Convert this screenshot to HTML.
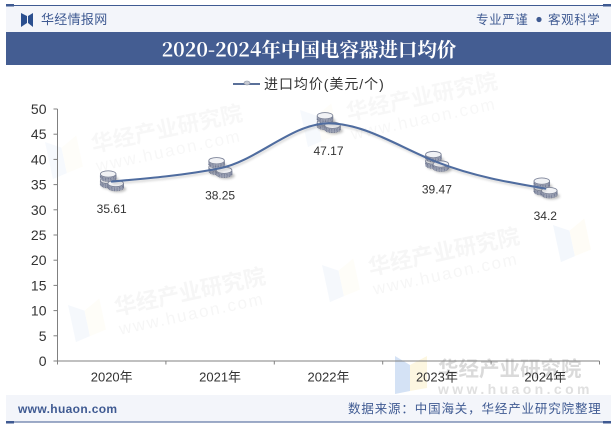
<!DOCTYPE html>
<html lang="zh">
<head>
<meta charset="utf-8">
<title>2020-2024年中国电容器进口均价</title>
<style>
html,body{margin:0;padding:0;background:#fff;width:615px;height:427px;overflow:hidden}
svg{display:block;font-family:"Liberation Sans","Noto Sans CJK SC",sans-serif}
</style>
</head>
<body>
<svg id="chart" width="615" height="427" viewBox="0 0 615 427" xmlns="http://www.w3.org/2000/svg">
  <defs>
    <filter id="blur1" x="-40%" y="-40%" width="180%" height="180%"><feGaussianBlur stdDeviation="1.4"/></filter>
    <filter id="blur2" x="-10%" y="-40%" width="120%" height="180%"><feGaussianBlur stdDeviation="1"/></filter>
    <g id="wm-logo">
      <polygon points="0,0 15,9 15,35 0,38" fill="#2f74d0"/>
      <polygon points="15,9 32,0 32,32 15,35" fill="#f5d76a"/>
    </g>
  </defs>

  <g id="watermarks">
    <g transform="translate(45,142) rotate(-12)" opacity="0.035">
      <use href="#wm-logo"/>
      <text x="45" y="20" font-size="22" font-weight="700" fill="#444">华经产业研究院</text>
      <text x="45" y="40" font-size="17" letter-spacing="1.8" fill="#444">www.huaon.com</text>
    </g>
    <g transform="translate(300,110) rotate(-12)" opacity="0.035">
      <use href="#wm-logo"/>
      <text x="45" y="20" font-size="22" font-weight="700" fill="#444">华经产业研究院</text>
      <text x="45" y="40" font-size="17" letter-spacing="1.8" fill="#444">www.huaon.com</text>
    </g>
    <g transform="translate(322,265) rotate(-12)" opacity="0.045">
      <use href="#wm-logo"/>
      <text x="45" y="20" font-size="22" font-weight="700" fill="#444">华经产业研究院</text>
      <text x="45" y="40" font-size="17" letter-spacing="1.8" fill="#444">www.huaon.com</text>
    </g>
    <g transform="translate(68,305) rotate(-12)" opacity="0.045">
      <use href="#wm-logo"/>
      <text x="45" y="20" font-size="22" font-weight="700" fill="#444">华经产业研究院</text>
      <text x="45" y="40" font-size="17" letter-spacing="1.8" fill="#444">www.huaon.com</text>
    </g>
    <g transform="translate(553,225) rotate(-12)" opacity="0.05">
      <use href="#wm-logo"/>
    </g>
    <g transform="translate(395,356)">
      <g opacity="0.2"><use href="#wm-logo"/></g>
      <text x="43" y="20" font-size="20.5" font-weight="700" fill="#dadada">华经产业研究院</text>
      <text x="43" y="38" font-size="14" font-weight="700" letter-spacing="3.4" fill="#e0e0e0">www.huaon.com</text>
    </g>
  </g>

  <g>
    <rect x="6" y="6" width="605" height="26" fill="#f3f5fa"/>
    <rect x="6" y="5" width="605" height="1" fill="#3f5a92"/>
    <rect x="6" y="4" width="8" height="2.5" fill="#3f5a92"/>
    <rect x="603" y="4" width="8" height="2.5" fill="#3f5a92"/>
    <path d="M21 13 L27 16 L27 23 L21 27 Z M33 13 L28 16 L28 23 L33 27 Z" fill="#2b4f8f"/>
    <text x="41" y="24" font-size="13" letter-spacing="0.3" fill="#3f5a92">华经情报网</text>
    <text x="476" y="24" font-size="12.5" letter-spacing="0.6" fill="#3f5a92">专业严谨</text>
    <circle cx="539" cy="19.5" r="2.6" fill="#3f5a92"/>
    <text x="548" y="24" font-size="12.5" letter-spacing="0.6" fill="#3f5a92">客观科学</text>
  </g>

  <rect x="6" y="32" width="605" height="33" fill="#445d92"/>
  <text x="309" y="56.5" text-anchor="middle" font-size="19.5" font-weight="700" fill="#fff" style="font-family:'Noto Serif CJK SC','Liberation Serif',serif">2020-2024年中国电容器进口均价</text>

  <g>
    <line x1="233" y1="84" x2="260" y2="84" stroke="#5a7099" stroke-width="2"/>
    <ellipse cx="247" cy="83" rx="3" ry="2" fill="#c5c9d2" stroke="#8f95a3" stroke-width="0.6"/>
    <text x="264" y="89" font-size="14" letter-spacing="0.95" fill="#333">进口均价(美元/个)</text>
  </g>

  <g id="axes"></g>
  <g id="series"></g>

  <g>
    <rect x="6" y="395" width="605" height="27" fill="#f3f5fa"/>
    <rect x="6" y="421.5" width="605" height="1" fill="#3f5a92"/>
    <rect x="6" y="421" width="8" height="2.5" fill="#3f5a92"/>
    <rect x="603" y="421" width="8" height="2.5" fill="#3f5a92"/>
    <text x="18" y="413" font-size="12" font-weight="700" letter-spacing="0.35" fill="#3f5a92">www.huaon.com</text>
    <text x="348" y="413" font-size="12.5" letter-spacing="0.85" fill="#3f5a92">数据来源：中国海关，华经产业研究院整理</text>
  </g>
</svg>

<script>
const categories = ['2020年', '2021年', '2022年', '2023年', '2024年'];
const priceValues = [35.61, 38.25, 47.17, 39.47, 34.2];
const priceLabels = ['35.61', '38.25', '47.17', '39.47', '34.2'];
const yTickValues = [0, 5, 10, 15, 20, 25, 30, 35, 40, 45, 50];

const NS = 'http://www.w3.org/2000/svg';
const plot = { left: 57.5, right: 599.5, top: 109, bottom: 361, yMax: 50 };

function xScale(i) {
  const band = (plot.right - plot.left) / categories.length;
  return plot.left + band * (i + 0.5);
}
function xEdge(i) {
  return plot.left + (plot.right - plot.left) / categories.length * i;
}
function yScale(v) {
  return plot.bottom - (v / plot.yMax) * (plot.bottom - plot.top);
}
function make(parent, tag, attrs, text) {
  const el = document.createElementNS(NS, tag);
  for (const k in attrs) el.setAttribute(k, attrs[k]);
  if (text !== undefined) el.textContent = text;
  parent.appendChild(el);
  return el;
}

const axes = document.getElementById('axes');
const series = document.getElementById('series');

const yAxisLine = make(axes, 'line', { x1: plot.left, y1: plot.top, x2: plot.left, y2: plot.bottom, stroke: '#808080', 'stroke-width': 1 });



const xAxisLine = make(axes, 'line', { x1: plot.left, y1: plot.bottom, x2: plot.right, y2: plot.bottom, stroke: '#808080', 'stroke-width': 1 });



yTickValues.forEach(function (v) {
  const y = yScale(v);
  const tick = make(axes, 'line', { x1: plot.left - 4, y1: y, x2: plot.left, y2: y, stroke: '#808080', 'stroke-width': 1 });
  
  
  const label = make(axes, 'text', { x: plot.left - 11, y: y + 5, 'text-anchor': 'end', 'font-size': 14, fill: '#333' }, String(v));
  
  
});

for (let i = 0; i <= categories.length; i++) {
  const x = xEdge(i);
  const tick = make(axes, 'line', { x1: x, y1: plot.bottom, x2: x, y2: plot.bottom + 3.5, stroke: '#808080', 'stroke-width': 1 });
  
  
}

categories.forEach(function (c, i) {
  const label = make(axes, 'text', { x: xScale(i), y: plot.bottom + 20.5, 'text-anchor': 'middle', 'font-size': 13, fill: '#333' }, c);
  
  
});

function drawStack(parent, cx, cy) {
  make(parent, 'ellipse', { cx: cx + 2, cy: cy + 5.5, rx: 8.5, ry: 3.2, fill: '#555', opacity: 0.4, filter: 'url(#blur1)' });
  [4, 2.6, 1.3].forEach(function (d) {
    make(parent, 'ellipse', { cx: cx, cy: cy + d, rx: 7.8, ry: 3.2, fill: '#aeb3c2', stroke: '#6e7690', 'stroke-width': 1, 'stroke-dasharray': '1 0.6' });
  });
  make(parent, 'ellipse', { cx: cx, cy: cy, rx: 7.8, ry: 3.2, fill: '#f1f2f5', stroke: '#7d8499', 'stroke-width': 0.9 });
}

function monotonePath() {
  const pts = priceValues.map(function (v, i) { return [xScale(i), yScale(v)]; });
  const n = pts.length;
  const secants = [];
  for (let i = 0; i < n - 1; i++) {
    secants.push((pts[i + 1][1] - pts[i][1]) / (pts[i + 1][0] - pts[i][0]));
  }
  const slopes = new Array(n).fill(0);
  for (let i = 1; i < n - 1; i++) {
    const a = secants[i - 1], b = secants[i];
    if (a * b > 0) {
      slopes[i] = Math.sign(a) * Math.min(Math.abs(a), Math.abs(b), 0.5 * Math.abs(a + b));
      slopes[i] = slopes[i] * 1.6;
      if (Math.abs(slopes[i]) > 3 * Math.min(Math.abs(a), Math.abs(b))) {
        slopes[i] = Math.sign(a) * 3 * Math.min(Math.abs(a), Math.abs(b));
      }
    }
  }
  slopes[0] = (3 * secants[0] - slopes[1]) / 2;
  slopes[n - 1] = (3 * secants[n - 2] - slopes[n - 2]) / 2;
  let d = 'M' + pts[0][0] + ' ' + pts[0][1];
  for (let i = 1; i < n; i++) {
    const h = (pts[i][0] - pts[i - 1][0]) / 3;
    d += ' C' + (pts[i - 1][0] + h) + ' ' + (pts[i - 1][1] + slopes[i - 1] * h) +
         ' ' + (pts[i][0] - h) + ' ' + (pts[i][1] - slopes[i] * h) +
         ' ' + pts[i][0] + ' ' + pts[i][1];
  }
  return d;
}

priceValues.forEach(function (v, i) {
  const x = xScale(i), y = yScale(v);
  const marker = make(series, 'g', {});
  
  
  drawStack(marker, x - 3.5, y - 1);
  drawStack(marker, x - 3.5, y - 7.5);
  drawStack(marker, x + 4, y + 2);
});

const lineShadow = make(series, 'path', { d: monotonePath(), fill: 'none', stroke: '#777', 'stroke-width': 2, opacity: 0.3, transform: 'translate(1,2)', filter: 'url(#blur2)' });



const priceLine = make(series, 'path', { d: monotonePath(), fill: 'none', stroke: '#4f6c9f', 'stroke-width': 2.1, 'stroke-linecap': 'round' });



priceValues.forEach(function (v, i) {
  const label = make(series, 'text', { x: xScale(i), y: yScale(v) + 31.5, 'text-anchor': 'middle', 'font-size': 12, fill: '#333' }, priceLabels[i]);
  
  
});
</script>
</body>
</html>
